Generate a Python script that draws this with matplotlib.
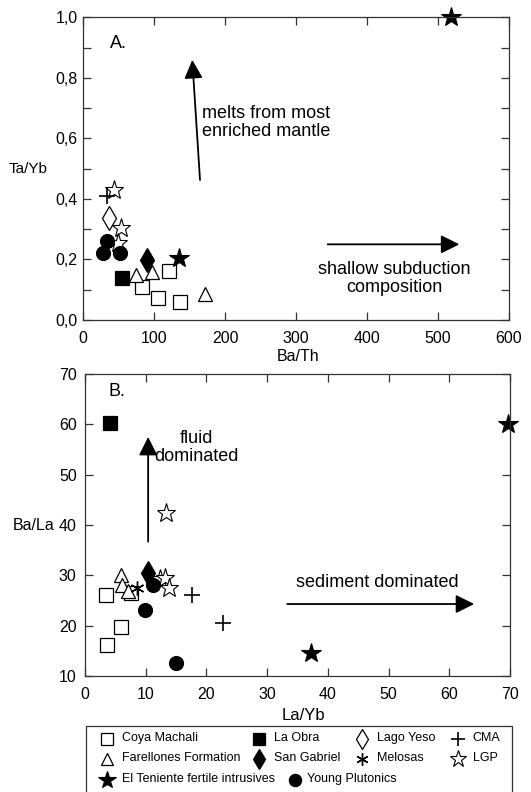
'''
    Two-panel trace element ratio plot (Ta/Yb vs Ba/Th, Ba/La vs La/Yb)
'''
import matplotlib
matplotlib.use('Agg')
import matplotlib.pyplot as plt
from matplotlib.patches import Rectangle
from matplotlib.ticker import MultipleLocator, FuncFormatter

plt.rcParams['font.family'] = ['Liberation Sans', 'DejaVu Sans']

W, H = 531, 792

# ---- panel A data: Ba/Th (x) vs Ta/Yb (y)
coya_a_x = [120.8, 82.3, 105.3, 135.8]
coya_a_y = [0.162, 0.108, 0.074, 0.060]
laobra_a_x = [55.0]
laobra_a_y = [0.138]
lagoyeso_a_x = [36.6]
lagoyeso_a_y = [0.336]
cma_a_x = [33.8]
cma_a_y = [0.410]
farellones_a_x = [74.3, 96.4, 171.5]
farellones_a_y = [0.148, 0.160, 0.086]
sangabriel_a_x = [89.3]
sangabriel_a_y = [0.198]
lgp_a_x = [43.7, 52.7, 49.6]
lgp_a_y = [0.430, 0.303, 0.253]
teniente_a_x = [518.0, 135.0]
teniente_a_y = [1.000, 0.204]
young_a_x = [33.0, 27.3, 51.7]
young_a_y = [0.262, 0.220, 0.220]

# ---- panel B data: La/Yb (x) vs Ba/La (y)
coya_b_x = [3.5, 7.5, 5.9, 3.7]
coya_b_y = [26.1, 26.4, 19.8, 16.2]
laobra_b_x = [4.1]
laobra_b_y = [60.2]
farellones_b_x = [5.9, 6.1, 7.0]
farellones_b_y = [30.1, 28.1, 26.8]
sangabriel_b_x = [10.4]
sangabriel_b_y = [30.4]
melosas_b_x = [8.6]
melosas_b_y = [27.4]
cma_b_x = [17.6, 22.7]
cma_b_y = [26.1, 20.5]
lgp_b_x = [12.4, 13.3, 13.2, 13.8]
lgp_b_y = [29.2, 42.3, 29.5, 27.4]
teniente_b_x = [69.6, 37.3]
teniente_b_y = [60.0, 14.6]
young_b_x = [11.15, 9.9, 15.0]
young_b_y = [28.1, 23.1, 12.5]

# marker styles (marker, face, size, edge width)
STYLE = {
    'Coya Machali': ('s', 'white', 9.5, 0.9),
    'La Obra': ('s', 'black', 9.5, 0.9),
    'Lago Yeso': ('d', 'white', 12, 0.9),
    'CMA': ('+', 'black', 11, 1.2),
    'Farellones Formation': ('^', 'white', 10.5, 0.9),
    'San Gabriel': ('d', 'black', 12, 0.9),
    'Melosas': ((6, 2, 0), 'black', 10, 1.0),
    'LGP': ('*', 'white', 14, 0.8),
    'El Teniente fertile intrusives': ('*', 'black', 15, 0.8),
    'Young Plutonics': ('o', 'black', 10, 0.9),
}

DRAW_ORDER = ['Coya Machali', 'LGP', 'Farellones Formation', 'La Obra',
              'Lago Yeso', 'CMA', 'Melosas', 'San Gabriel',
              'El Teniente fertile intrusives', 'Young Plutonics']

SERIES_A = {
    'Coya Machali': (coya_a_x, coya_a_y),
    'La Obra': (laobra_a_x, laobra_a_y),
    'Lago Yeso': (lagoyeso_a_x, lagoyeso_a_y),
    'CMA': (cma_a_x, cma_a_y),
    'Farellones Formation': (farellones_a_x, farellones_a_y),
    'San Gabriel': (sangabriel_a_x, sangabriel_a_y),
    'LGP': (lgp_a_x, lgp_a_y),
    'El Teniente fertile intrusives': (teniente_a_x, teniente_a_y),
    'Young Plutonics': (young_a_x, young_a_y),
}

SERIES_B = {
    'Coya Machali': (coya_b_x, coya_b_y),
    'La Obra': (laobra_b_x, laobra_b_y),
    'CMA': (cma_b_x, cma_b_y),
    'Farellones Formation': (farellones_b_x, farellones_b_y),
    'San Gabriel': (sangabriel_b_x, sangabriel_b_y),
    'Melosas': (melosas_b_x, melosas_b_y),
    'LGP': (lgp_b_x, lgp_b_y),
    'El Teniente fertile intrusives': (teniente_b_x, teniente_b_y),
    'Young Plutonics': (young_b_x, young_b_y),
}

TICK_FS = 11.5
NOTE_FS = 13


def draw_marker(ax, name, x, y, scale=1.0):
    mk, fc, ms, mew = STYLE[name]
    ax.plot(x, y, linestyle='none', marker=mk, markerfacecolor=fc,
            markeredgecolor='black', color='black', markersize=ms * scale,
            markeredgewidth=mew, clip_on=False)


def style_axes(ax):
    for sp in ax.spines.values():
        sp.set_linewidth(0.9)
        sp.set_color('#333333')
    ax.tick_params(which='both', direction='in', top=True, right=True,
                   length=6, width=0.9, color='#333333', labelsize=TICK_FS)


def arrow(ax, x0, y0, x1, y1):
    ax.annotate('', xy=(x1, y1), xytext=(x0, y0),
                arrowprops=dict(arrowstyle='-|>,head_length=0.8,head_width=0.4',
                                mutation_scale=14, lw=1.3, color='black',
                                shrinkA=0, shrinkB=0))


def fx(px):
    return px / W


def fy(py):
    return 1 - py / H


def main():
    fig = plt.figure(figsize=(W / 100, H / 100), dpi=100)

    # ---------- panel A
    ax_a = fig.add_axes([fx(83.3), fy(320), fx(509) - fx(83.3), fy(17.3) - fy(320)])
    for name in DRAW_ORDER:
        if name in SERIES_A:
            draw_marker(ax_a, name, *SERIES_A[name])
    ax_a.set_xlim(0, 600)
    ax_a.set_ylim(0, 1.0)
    ax_a.xaxis.set_major_locator(MultipleLocator(100))
    ax_a.yaxis.set_major_locator(MultipleLocator(0.2))
    ax_a.yaxis.set_minor_locator(MultipleLocator(0.1))
    ax_a.yaxis.set_major_formatter(FuncFormatter(lambda v, p: f'{v:.1f}'.replace('.', ',')))
    style_axes(ax_a)
    ax_a.tick_params(axis='x', pad=8)
    ax_a.tick_params(axis='y', pad=4)
    arrow(ax_a, 164.5, 0.4625, 153.6, 0.859)
    arrow(ax_a, 344.5, 0.25, 530, 0.25)
    ax_a.text(167.7, 0.652, 'melts from most\nenriched mantle', fontsize=NOTE_FS,
              ha='left', va='center', linespacing=1.1)
    ax_a.text(438, 0.138, 'shallow subduction\ncomposition', fontsize=NOTE_FS,
              ha='center', va='center', linespacing=1.1)
    ax_a.text(49, 0.914, 'A.', fontsize=NOTE_FS, ha='center', va='center')

    # ---------- panel B
    ax_b = fig.add_axes([fx(85), fy(676), fx(510) - fx(85), fy(374) - fy(676)])
    for name in DRAW_ORDER:
        if name in SERIES_B:
            draw_marker(ax_b, name, *SERIES_B[name])
    ax_b.set_xlim(0, 70)
    ax_b.set_ylim(10, 70)
    ax_b.xaxis.set_major_locator(MultipleLocator(10))
    ax_b.yaxis.set_major_locator(MultipleLocator(10))
    style_axes(ax_b)
    ax_b.tick_params(axis='x', pad=8)
    ax_b.tick_params(axis='y', pad=6)
    arrow(ax_b, 10.4, 36.7, 10.4, 57.5)
    arrow(ax_b, 33.3, 24.3, 64.1, 24.3)
    ax_b.text(18.4, 55.4, 'fluid\ndominated', fontsize=NOTE_FS,
              ha='center', va='center', linespacing=1.05)
    ax_b.text(48.1, 28.6, 'sediment dominated', fontsize=NOTE_FS,
              ha='center', va='center')
    ax_b.text(5.3, 66.6, 'B.', fontsize=NOTE_FS, ha='center', va='center')

    # ---------- axis labels
    fig.text(fx(28), fy(169), 'Ta/Yb', fontsize=11, ha='center', va='center')
    fig.text(fx(298), fy(357), 'Ba/Th', fontsize=11.5, ha='center', va='center')
    fig.text(fx(55), fy(525), 'Ba/La', fontsize=11.5, ha='right', va='center')
    fig.text(fx(303), fy(715), 'La/Yb', fontsize=12, ha='center', va='center')

    # ---------- legend (hand laid out, the original is not a regular grid)
    lg = fig.add_axes([0, 0, 1, 1])
    lg.set_xlim(0, W)
    lg.set_ylim(H, 0)
    lg.axis('off')
    lg.add_patch(Rectangle((86, 726), 426, 80, fill=False, lw=0.9,
                           edgecolor='#333333', clip_on=False))
    rows = [739, 759, 780]
    entries = [
        ('Coya Machali', 106.7, 121.7, rows[0]),
        ('La Obra', 259, 274, rows[0]),
        ('Lago Yeso', 361.7, 376.7, rows[0]),
        ('CMA', 458, 472.7, rows[0]),
        ('Farellones Formation', 106.7, 121.7, rows[1]),
        ('San Gabriel', 259, 274, rows[1]),
        ('Melosas', 361.7, 376.7, rows[1]),
        ('LGP', 458, 472.7, rows[1]),
        ('El Teniente fertile intrusives', 106.7, 121.7, rows[2]),
        ('Young Plutonics', 295, 306.7, rows[2]),
    ]
    for name, mx, tx, ry in entries:
        draw_marker(lg, name, [mx], [ry], scale=0.88)
        lg.text(tx, ry - 1, name, fontsize=9, ha='left', va='center')

    fig.savefig('out.png', dpi=100)


if __name__ == '__main__':
    main()
